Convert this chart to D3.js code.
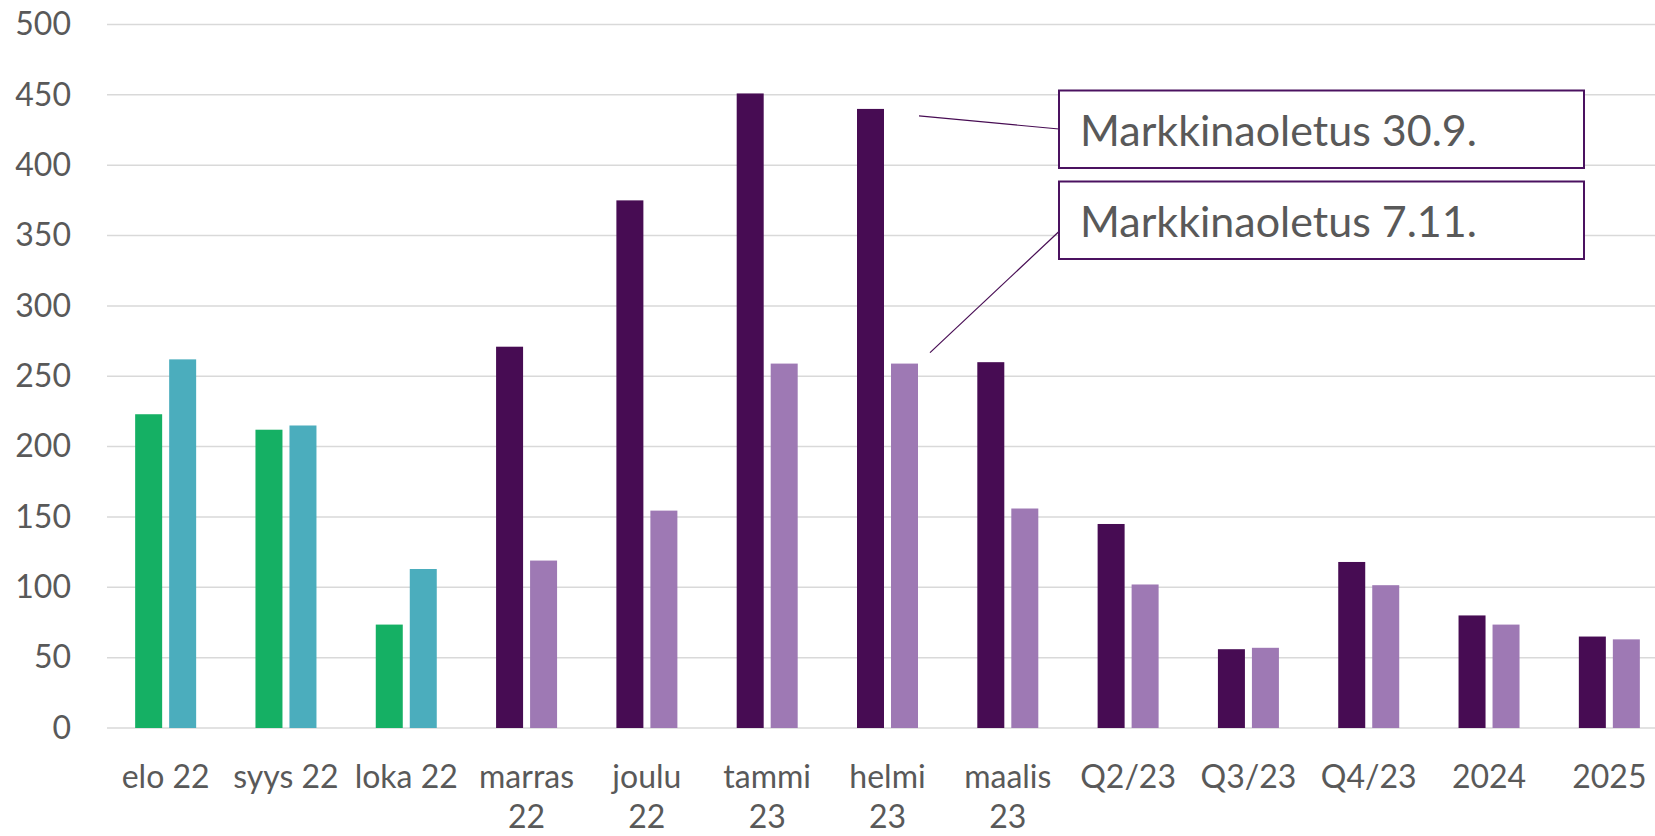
<!DOCTYPE html>
<html>
<head>
<meta charset="utf-8">
<script src="https://cdn.jsdelivr.net/npm/d3@7"></script>
<style>
  body { margin: 0; background: #fff; }
  svg { display: block; font-family: Lato, "Open Sans", sans-serif; }
</style>
</head>
<body>
<div id="vis"></div>
<script>
// categories and values
var categories = ["elo 22", "syys 22", "loka 22", "marras 22", "joulu 22", "tammi 23",
                  "helmi 23", "maalis 23", "Q2/23", "Q3/23", "Q4/23", "2024", "2025"];
var sept30 = [223, 212, 73.5, 271, 375, 451, 440, 260, 145, 56, 118, 80, 65];
var nov7   = [262, 215, 113, 119, 154.5, 259, 259, 156, 102, 57, 101.5, 73.5, 63];
var realizedCount = 3;   // first months are realized prices (green / teal)
var yTicks = [0, 50, 100, 150, 200, 250, 300, 350, 400, 450, 500];
var callouts = ["Markkinaoletus 30.9.", "Markkinaoletus 7.11."];

var width = 1655, height = 836;
var textColor = "#595959";

var svg = d3.select("#vis").append("svg")
    .attr("width", width)
    .attr("height", height);

var x = d3.scaleBand()
    .domain(categories)
    .range([105.5, 1669.5])
    .paddingInner(0.493)
    .paddingOuter(0.2465);

var xs = d3.scaleBand()
    .domain(["a", "b"])
    .range([0, x.bandwidth()])
    .paddingInner(0.206);

var y = d3.scaleLinear()
    .domain([0, 500])
    .range([728, 24.5]);

// gridlines
svg.append("g")
    .selectAll("line")
    .data(yTicks)
    .enter().append("line")
    .attr("x1", 107)
    .attr("x2", width)
    .attr("y1", function(d) { return y(d); })
    .attr("y2", function(d) { return y(d); })
    .attr("stroke", "#d9d9d9")
    .attr("stroke-width", 1.5);

// y axis labels
var yAxis = svg.append("g")
    .attr("transform", "translate(71,0)")
    .call(d3.axisLeft(y).tickValues(yTicks).tickSize(0).tickPadding(0));
yAxis.select(".domain").remove();
yAxis.selectAll("text")
    .attr("fill", textColor)
    .style("font-size", "32px")
    .style("font-family", "Lato, 'Open Sans', sans-serif");

// bars
var colorA = function(i) { return i < realizedCount ? "#15b064" : "#470c53"; };
var colorB = function(i) { return i < realizedCount ? "#4badbd" : "#9e79b4"; };

var groups = svg.append("g")
    .selectAll("g")
    .data(categories)
    .enter().append("g")
    .attr("transform", function(d) { return "translate(" + x(d) + ",0)"; });

groups.append("rect")
    .attr("x", xs("a"))
    .attr("width", xs.bandwidth())
    .attr("y", function(d, i) { return y(sept30[i]); })
    .attr("height", function(d, i) { return y(0) - y(sept30[i]); })
    .attr("fill", function(d, i) { return colorA(i); });

groups.append("rect")
    .attr("x", xs("b"))
    .attr("width", xs.bandwidth())
    .attr("y", function(d, i) { return y(nov7[i]); })
    .attr("height", function(d, i) { return y(0) - y(nov7[i]); })
    .attr("fill", function(d, i) { return colorB(i); });

// category labels, wrapped when too wide for the band
var labels = svg.append("g")
    .selectAll("text")
    .data(categories)
    .enter().append("text")
    .attr("x", function(d) { return x(d) + x.bandwidth() / 2; })
    .attr("y", 788)
    .attr("text-anchor", "middle")
    .attr("fill", textColor)
    .style("font-size", "32px");

labels.each(function(d) {
    var t = d3.select(this);
    t.text(d);
    if (this.getComputedTextLength() > x.step() - 14 && d.indexOf(" ") > 0) {
        var words = d.split(" ");
        t.text(null);
        words.forEach(function(w, k) {
            t.append("tspan")
                .attr("x", t.attr("x"))
                .attr("dy", k === 0 ? 0 : 40)
                .text(w);
        });
    }
});

// callouts pointing at the helmi 23 bars
var boxX = 1059, boxW = 525, boxH = 77.5;
var boxY = [90.5, 181.5];
var anchor = categories[6];
var lineEnds = [
    { x: x(anchor) + x.bandwidth() + 1, y: y(sept30[6]) + 7, by: 129 },
    { x: x(anchor) + x.bandwidth() + 12, y: y(nov7[6]) - 11, by: 231.5 }
];

lineEnds.forEach(function(p) {
    svg.append("line")
        .attr("x1", p.x).attr("y1", p.y)
        .attr("x2", boxX).attr("y2", p.by)
        .attr("stroke", "#470c53")
        .attr("stroke-width", 1.2);
});

callouts.forEach(function(c, i) {
    svg.append("rect")
        .attr("x", boxX).attr("y", boxY[i])
        .attr("width", boxW).attr("height", boxH)
        .attr("fill", "#fff")
        .attr("stroke", "#4b1260")
        .attr("stroke-width", 2);
    svg.append("text")
        .attr("x", boxX + 21)
        .attr("y", boxY[i] + 55)
        .attr("fill", textColor)
        .style("font-size", "43px")
        .text(c);
});
</script>
</body>
</html>
